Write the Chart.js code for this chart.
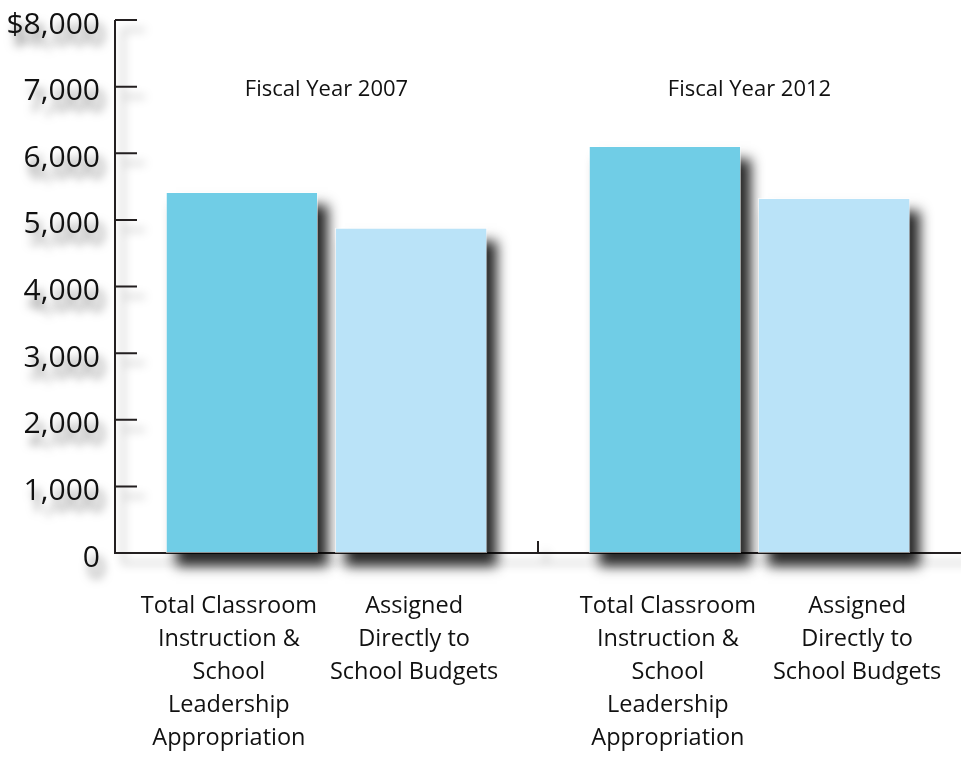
<!DOCTYPE html>
<html lang="en">
<head>
<meta charset="UTF-8">
<title>Classroom Instruction Appropriation</title>
<script src="https://cdn.jsdelivr.net/npm/chart.js"></script>
<style>
  html, body { margin: 0; padding: 0; background: #fff; overflow: hidden; }
  canvas { display: block; }
</style>
</head>
<body>
<canvas id="chart" width="961" height="759"></canvas>
<script>
  // data (dollars)
  const years = ['Fiscal Year 2007', 'Fiscal Year 2012'];
  const seriesNames = ['Total Classroom Instruction & School Leadership Appropriation', 'Assigned Directly to School Budgets'];
  const totalAppropriation = [5420, 6110];
  const assignedToSchools = [4880, 5330];
  const barLabels = [
    ['Total Classroom', 'Instruction &', 'School', 'Leadership', 'Appropriation'],
    ['Assigned', 'Directly to', 'School Budgets']
  ];
  const yMax = 8000;
  const yStep = 1000;

  const ink = '#111';
  const fontFamily = '"Open Sans", sans-serif';
  // hand placement of the bar captions, [dataset][category]
  const captionNudge = [[-13, 3], [3, 23]];

  function formatY(v) {
    const s = v.toLocaleString('en-US');
    return v === yMax ? '$' + s : s;
  }

  const decor = {
    id: 'decor',
    beforeDatasetsDraw(chart) {
      const { ctx, chartArea: a, scales: { x, y } } = chart;

      // axis lines + ticks, with a soft shadow
      ctx.save();
      ctx.strokeStyle = '#231f20';
      ctx.lineWidth = 2;
      ctx.shadowColor = 'rgba(0,0,0,0.35)';
      ctx.shadowBlur = 10;
      ctx.shadowOffsetX = 8;
      ctx.shadowOffsetY = 10;
      ctx.beginPath();
      ctx.moveTo(a.left, a.top);
      ctx.lineTo(a.left, a.bottom);
      ctx.lineTo(a.right, a.bottom);
      y.ticks.forEach(t => {
        if (t.value > 0) {
          const py = y.getPixelForValue(t.value);
          ctx.moveTo(a.left, py);
          ctx.lineTo(a.left + 22, py);
        }
      });
      const mid = (x.getPixelForValue(0) + x.getPixelForValue(1)) / 2;
      ctx.moveTo(mid, a.bottom);
      ctx.lineTo(mid, a.bottom - 12);
      ctx.stroke();

      // y tick labels
      ctx.fillStyle = ink;
      ctx.font = '30px ' + fontFamily;
      ctx.textAlign = 'right';
      ctx.textBaseline = 'middle';
      ctx.shadowColor = 'rgba(0,0,0,0.55)';
      ctx.shadowBlur = 10;
      ctx.shadowOffsetX = 5;
      ctx.shadowOffsetY = 11;
      y.ticks.forEach(t => {
        ctx.fillText(formatY(t.value), a.left - 15, y.getPixelForValue(t.value) + 5);
      });
      ctx.restore();

      // drop shadows under the bars (shape drawn off canvas, only shadow lands)
      ctx.save();
      ctx.fillStyle = '#000';
      ctx.shadowColor = 'rgba(0,0,0,0.85)';
      ctx.shadowBlur = 12;
      ctx.shadowOffsetX = 10 + 3000;
      ctx.shadowOffsetY = 13;
      chart.data.datasets.forEach((ds, i) => {
        chart.getDatasetMeta(i).data.forEach(bar => {
          const p = bar.getProps(['x', 'y', 'width', 'base'], true);
          ctx.fillRect(p.x - p.width / 2 - 3000, p.y, p.width, p.base - p.y);
        });
      });
      ctx.restore();
    },
    afterDatasetsDraw(chart) {
      const { ctx, chartArea: a, scales: { x, y } } = chart;
      ctx.save();
      ctx.fillStyle = ink;
      ctx.textAlign = 'center';
      ctx.textBaseline = 'middle';

      // year headings
      ctx.font = '22px ' + fontFamily;
      years.forEach((yr, i) => {
        ctx.fillText(yr, x.getPixelForValue(i), y.getPixelForValue(7000) + 3);
      });

      // captions under each bar
      ctx.font = '23.5px ' + fontFamily;
      chart.data.datasets.forEach((ds, i) => {
        chart.getDatasetMeta(i).data.forEach((bar, j) => {
          const cx = bar.x + captionNudge[i][j];
          barLabels[i].forEach((line, k) => {
            ctx.fillText(line, cx, a.bottom + 53 + k * 33);
          });
        });
      });
      ctx.restore();
    }
  };

  new Chart(document.getElementById('chart').getContext('2d'), {
    type: 'bar',
    data: {
      labels: years,
      datasets: [
        {
          label: seriesNames[0],
          data: totalAppropriation,
          backgroundColor: '#70cde6',
          borderColor: 'rgba(255,255,255,0.55)',
          borderWidth: 1,
          borderSkipped: false
        },
        {
          label: seriesNames[1],
          data: assignedToSchools,
          backgroundColor: '#bae3f8',
          borderColor: 'rgba(255,255,255,0.55)',
          borderWidth: 1,
          borderSkipped: false
        }
      ]
    },
    options: {
      responsive: false,
      animation: false,
      devicePixelRatio: 1,
      layout: { padding: { left: 115, top: 20, right: -6, bottom: 206 } },
      plugins: { legend: { display: false }, tooltip: { enabled: false } },
      scales: {
        x: { display: false },
        y: {
          display: false,
          min: 0,
          max: yMax,
          ticks: { stepSize: yStep, callback: formatY }
        }
      }
    },
    plugins: [decor]
  });
</script>
</body>
</html>
